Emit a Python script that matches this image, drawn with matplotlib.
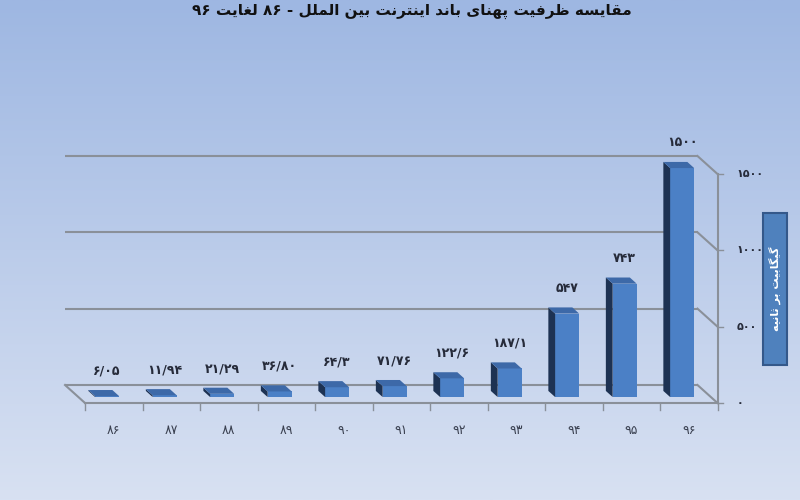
import numpy as np
import matplotlib
matplotlib.use('Agg')
import matplotlib.pyplot as plt
from matplotlib.patches import Polygon, Rectangle

# ---------------- data ----------------
years = ['۸۶', '۸۷', '۸۸', '۸۹', '۹۰', '۹۱', '۹۲', '۹۳', '۹۴', '۹۵', '۹۶']
values = [6.05, 11.94, 21.29, 36.80, 64.3, 71.76, 122.6, 187.1, 547, 743, 1500]
value_labels = ['۶/۰۵', '۱۱/۹۴', '۲۱/۲۹', '۳۶/۸۰', '۶۴/۳', '۷۱/۷۶',
                '۱۲۲/۶', '۱۸۷/۱', '۵۴۷', '۷۴۳', '۱۵۰۰']
y_ticks = [0, 500, 1000, 1500]
y_tick_labels = ['۰', '۵۰۰', '۱۰۰۰', '۱۵۰۰']
title = 'مقایسه ظرفیت پهنای باند اینترنت بین الملل - ۸۶ لغایت ۹۶'
y_label = 'گیگابیت بر ثانیه'

# ------------- minimal Arabic-script shaping (presentation forms) -------------
FORMS = {  # isolated, final, initial, medial
    '\u0627': ('\uFE8D', '\uFE8E', None, None),
    '\u0628': ('\uFE8F', '\uFE90', '\uFE91', '\uFE92'),
    '\u062A': ('\uFE95', '\uFE96', '\uFE97', '\uFE98'),
    '\u062B': ('\uFE99', '\uFE9A', '\uFE9B', '\uFE9C'),
    '\u062F': ('\uFEA9', '\uFEAA', None, None),
    '\u0631': ('\uFEAD', '\uFEAE', None, None),
    '\u0633': ('\uFEB1', '\uFEB2', '\uFEB3', '\uFEB4'),
    '\u0638': ('\uFEC5', '\uFEC6', '\uFEC7', '\uFEC8'),
    '\u063A': ('\uFECD', '\uFECE', '\uFECF', '\uFED0'),
    '\u0641': ('\uFED1', '\uFED2', '\uFED3', '\uFED4'),
    '\u0642': ('\uFED5', '\uFED6', '\uFED7', '\uFED8'),
    '\u0644': ('\uFEDD', '\uFEDE', '\uFEDF', '\uFEE0'),
    '\u0645': ('\uFEE1', '\uFEE2', '\uFEE3', '\uFEE4'),
    '\u0646': ('\uFEE5', '\uFEE6', '\uFEE7', '\uFEE8'),
    '\u0647': ('\uFEE9', '\uFEEA', '\uFEEB', '\uFEEC'),
    '\u06CC': ('\uFBFC', '\uFBFD', '\uFBFE', '\uFBFF'),
    '\u067E': ('\uFB56', '\uFB57', '\uFB58', '\uFB59'),
    '\u06AF': ('\uFB92', '\uFB93', '\uFB94', '\uFB95'),
}


def shape_word(w):
    """Join letters with contextual forms and put them in visual (RTL) order."""
    if not any(c in FORMS for c in w):
        return w  # digits / punctuation keep their order
    out = []
    for k, ch in enumerate(w):
        if ch not in FORMS:
            out.append(ch)
            continue
        iso, fin, ini, med = FORMS[ch]
        prev = w[k - 1] if k > 0 else None
        nxt = w[k + 1] if k < len(w) - 1 else None
        jp = prev in FORMS and FORMS[prev][2] is not None
        jn = ini is not None and nxt in FORMS
        if jp and jn:
            out.append(med)
        elif jp:
            out.append(fin)
        elif jn:
            out.append(ini)
        else:
            out.append(iso)
    return ''.join(reversed(out))


def shape_text(s):
    # right-to-left line: last word leftmost
    return ' '.join(shape_word(w) for w in reversed(s.split(' ')))


# ---------------- figure ----------------
W_PX, H_PX = 800, 500
fig = plt.figure(figsize=(8, 5), dpi=100)

# background gradient
bg = fig.add_axes([0, 0, 1, 1], zorder=0)
top_c = np.array([158, 183, 226]) / 255
bot_c = np.array([216, 225, 242]) / 255
t = np.linspace(0, 1, 256)[:, None, None]
grad = top_c * (1 - t) + bot_c * t
bg.imshow(grad, aspect='auto', extent=[0, 1, 0, 1])
bg.set_axis_off()

# main axes (front plane)
x0_px, x1_px = 85, 717.5
y0_px, y1_px = 403, 174  # pixel rows (from top) of value 0 and 1500
ax = fig.add_axes([x0_px / W_PX, (H_PX - y0_px) / H_PX,
                   (x1_px - x0_px) / W_PX, (y0_px - y1_px) / H_PX], zorder=1)
ax.set_facecolor('none')
ax.set_xlim(-0.5, 10.5)
ax.set_ylim(0, 1500)
ax.set_axis_off()

px_x = (x1_px - x0_px) / 11.0        # pixels per category
px_y = (y0_px - y1_px) / 1500.0      # pixels per value unit
DX = -20 / px_x                      # depth offset (front -> back wall)
DY = 18 / px_y

grid_c = '#8a9099'
lw = 1.5
n = len(values)

# back wall gridlines + side diagonals
for v in y_ticks:
    ax.plot([-0.5 + DX, n - 0.5 + DX], [v + DY, v + DY], color=grid_c, lw=lw,
            clip_on=False, zorder=1, solid_capstyle='butt')
    ax.plot([n - 0.5 + DX, n - 0.5], [v + DY, v], color=grid_c, lw=lw,
            clip_on=False, zorder=1)
    ax.plot([n - 0.5, n - 0.5 + 5 / px_x], [v, v], color=grid_c, lw=1.0,
            clip_on=False, zorder=1)
# front right axis, floor
ax.plot([n - 0.5, n - 0.5], [0, 1500], color=grid_c, lw=lw, clip_on=False, zorder=1)
ax.plot([-0.5, n - 0.5], [0, 0], color=grid_c, lw=lw, clip_on=False, zorder=1)
ax.plot([-0.5 + DX, -0.5], [DY, 0], color=grid_c, lw=lw, clip_on=False, zorder=1)
for k in range(n + 1):
    ax.plot([-0.5 + k, -0.5 + k], [0, -7 / px_y], color=grid_c, lw=1.0,
            clip_on=False, zorder=1)

# 3D-looking bars
df, db = 0.33, 0.67
bw = 24 / px_x
front_c = '#4b80c6'
side_c = '#1d3253'
top_face_c = '#3d69a8'
xs = np.arange(n)
fx = xs + DX * df
ax.bar(fx, values, width=bw, bottom=DY * df, color=front_c, zorder=3,
       clip_on=False, linewidth=0)
ddx, ddy = DX * (db - df), DY * (db - df)
for i, v in enumerate(values):
    xl = fx[i] - bw / 2
    xr = fx[i] + bw / 2
    yb = DY * df
    yt = v + DY * df
    ax.add_patch(Polygon([(xl, yb), (xl, yt), (xl + ddx, yt + ddy), (xl + ddx, yb + ddy)],
                         closed=True, facecolor=side_c, edgecolor='none', zorder=3,
                         clip_on=False))
    ax.add_patch(Polygon([(xl, yt), (xr, yt), (xr + ddx, yt + ddy), (xl + ddx, yt + ddy)],
                         closed=True, facecolor=top_face_c, edgecolor='none', zorder=3,
                         clip_on=False))
    ax.text(fx[i], v + DY * db + 19 / px_y, value_labels[i], ha='center', va='center',
            fontsize=9, color='#262b3a', fontweight='bold', clip_on=False)
    ax.text(i, -28 / px_y, years[i], ha='center', va='center', fontsize=9,
            color='#3a4050', clip_on=False)

# right tick labels
for v, lbl in zip(y_ticks, y_tick_labels):
    ax.text(n - 0.5 + 19 / px_x, v, lbl, ha='left', va='center', fontsize=8,
            color='#262b3a', fontweight='bold', clip_on=False)

# y-label box
fig.patches.append(Rectangle((763 / W_PX, (H_PX - 365) / H_PX), 24 / W_PX, 152 / H_PX,
                             transform=fig.transFigure, facecolor='#4f81bd',
                             edgecolor='#34588a', lw=1.5, zorder=5))
fig.text(775 / W_PX, (H_PX - 289) / H_PX, shape_text(y_label), rotation=90,
         ha='center', va='center', fontsize=8, color='white', fontweight='bold',
         zorder=6)

# title
fig.text(412 / W_PX, 1 - 11 / H_PX, shape_text(title), ha='center', va='center',
         fontsize=11, fontweight='bold', color='#111111', zorder=6)

fig.savefig('out.png', dpi=100)
